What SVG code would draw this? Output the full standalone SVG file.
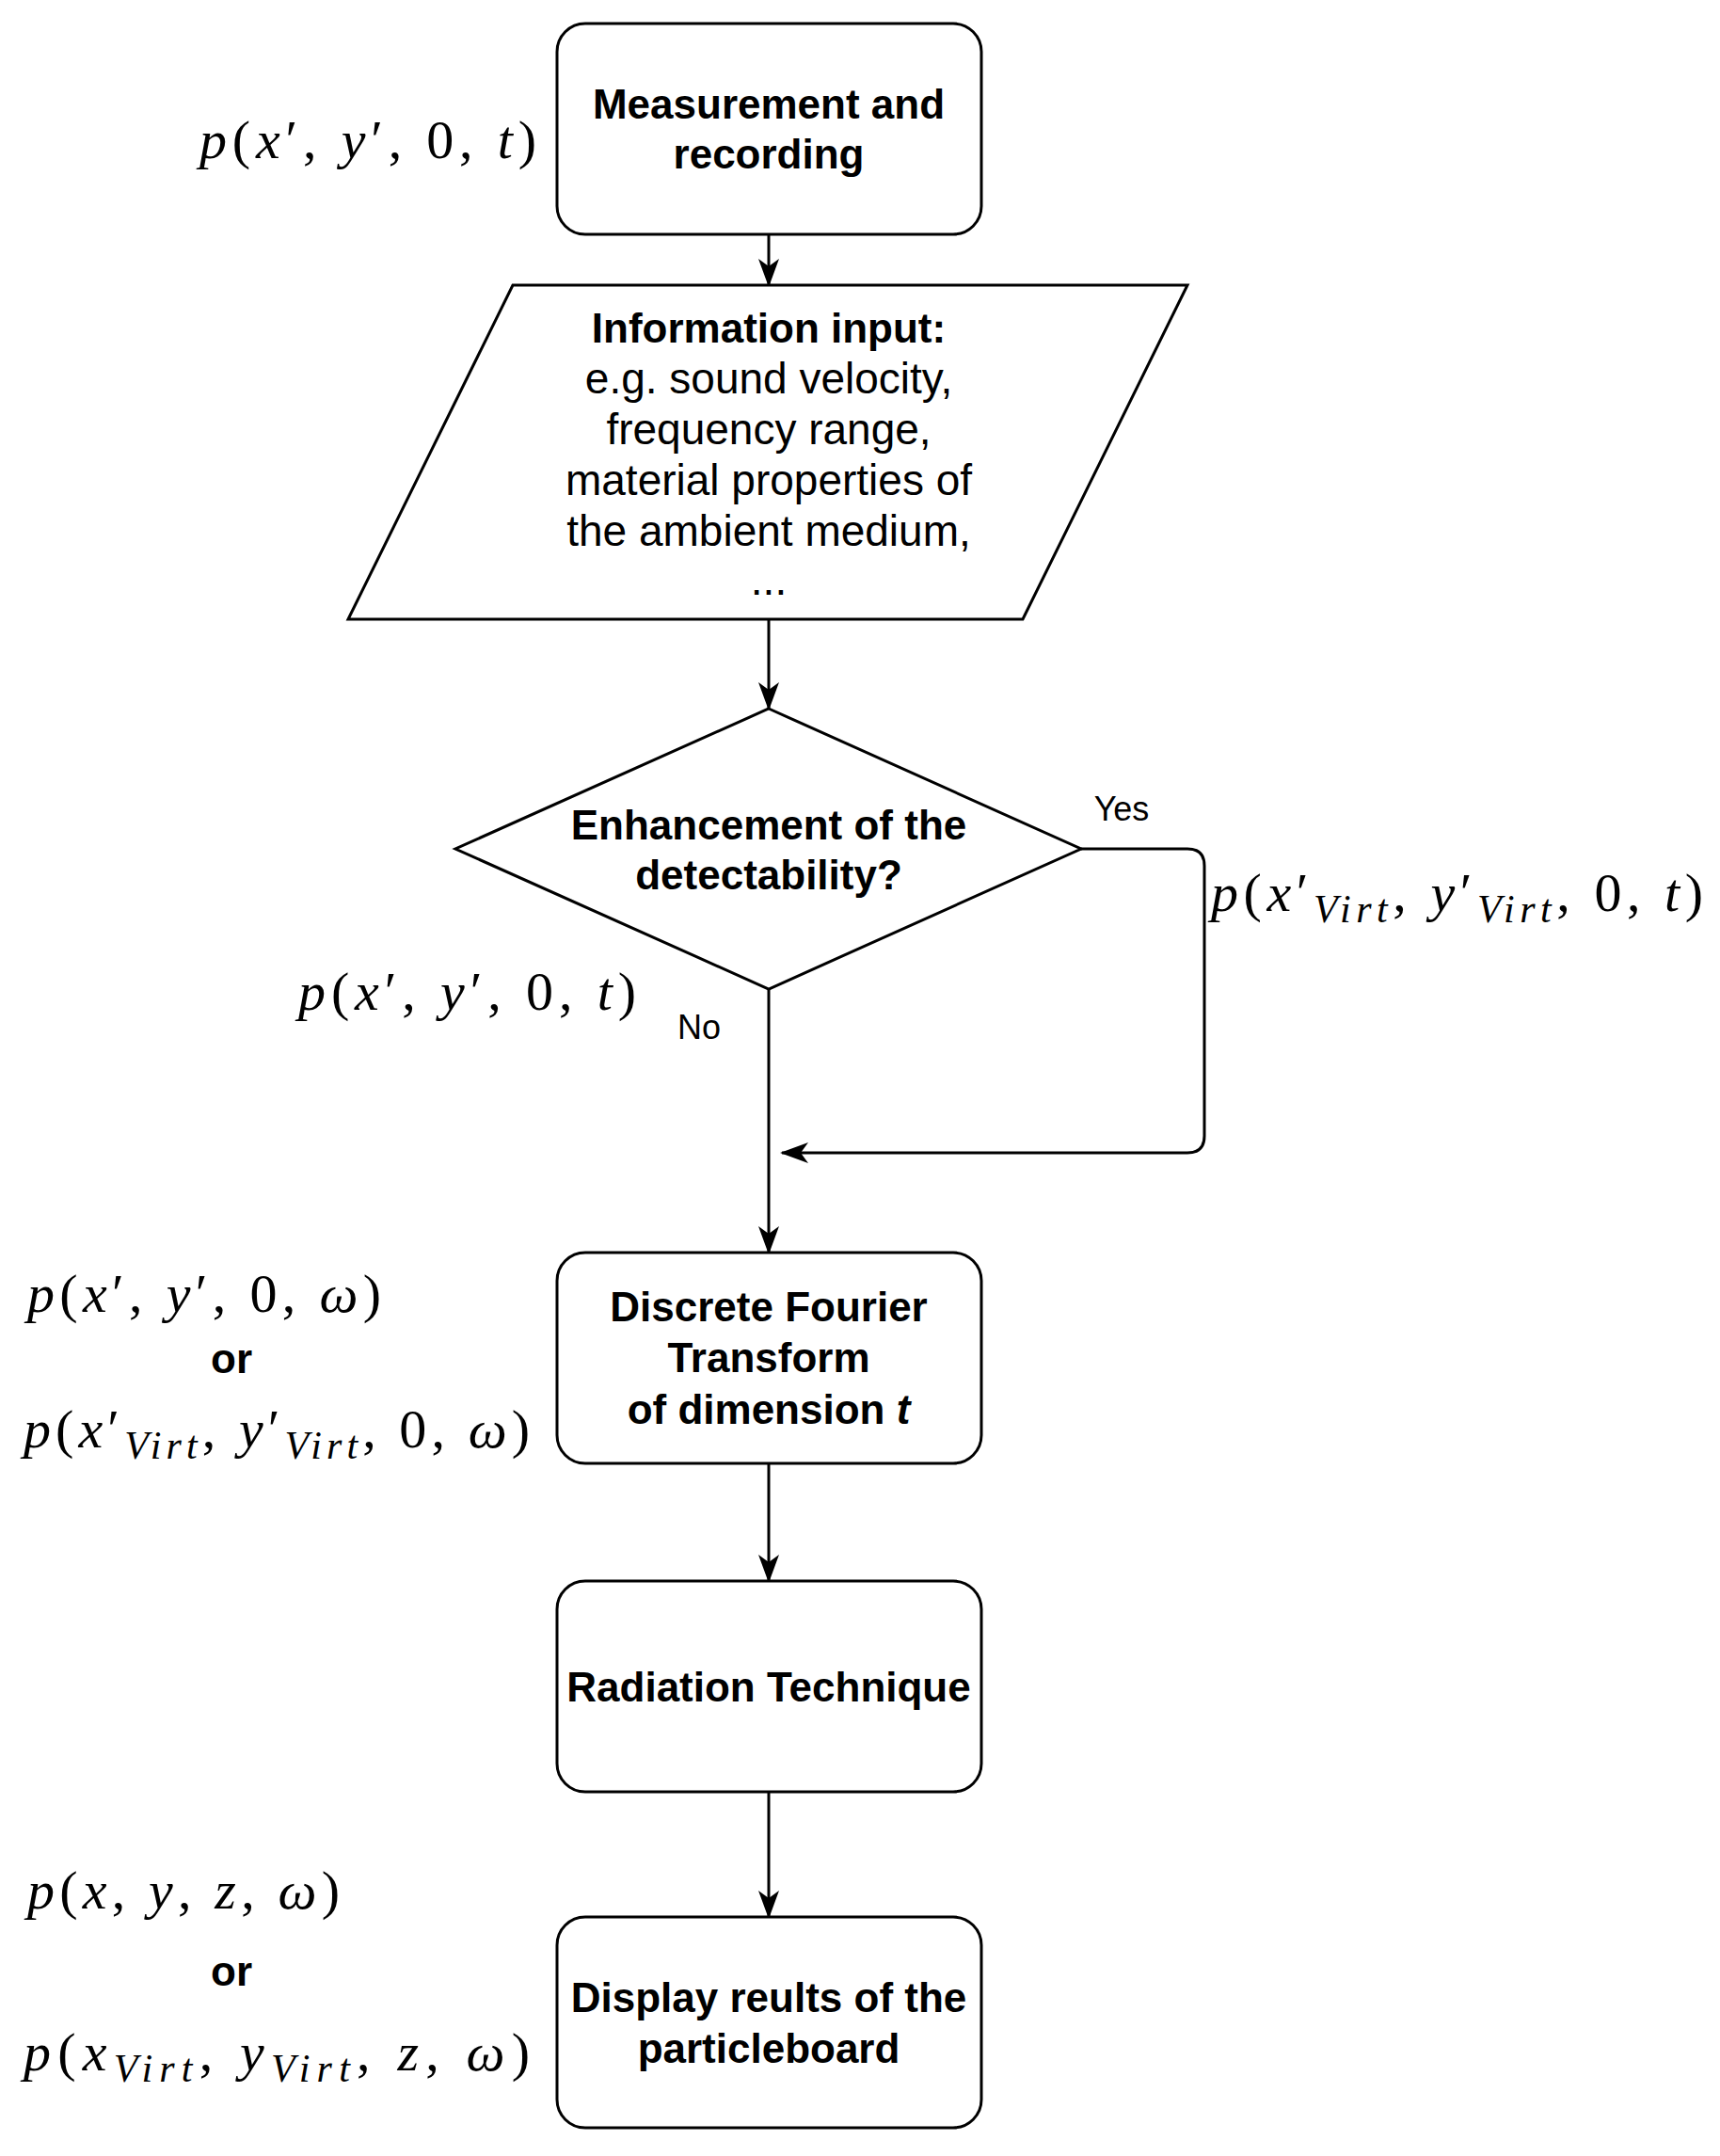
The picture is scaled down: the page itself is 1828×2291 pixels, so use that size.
<svg xmlns="http://www.w3.org/2000/svg" width="1828" height="2291" viewBox="0 0 1828 2291">
<style>
.s{fill:#fff;stroke:#000;stroke-width:3}
.t{font-family:"Liberation Sans",Arial,sans-serif;font-size:44px;text-anchor:middle;fill:#000}
.p{font-size:46px}
.b{font-weight:bold}
.m{font-family:"Liberation Serif","Times New Roman",serif;font-size:58px;fill:#000}
.i{font-style:italic}
.c{stroke:#000;stroke-width:3;fill:none}
</style>
<defs>
<marker id="ah" markerWidth="30" markerHeight="30" refX="28" refY="15" orient="auto" markerUnits="userSpaceOnUse"><path d="M0,4 L30,15 L0,26 L8,15 Z" fill="#000"/></marker></defs>
<g id="connectors">
<path class="c" d="M817,249 V303" marker-end="url(#ah)"/>
<path class="c" d="M817,658 V753" marker-end="url(#ah)"/>
<path class="c" d="M817,1051 V1331" marker-end="url(#ah)"/>
<path class="c" d="M1149,902 H1262 Q1280,902 1280,920 V1207 Q1280,1225 1262,1225 H831" marker-end="url(#ah)"/>
<path class="c" d="M817,1555 V1680" marker-end="url(#ah)"/>
<path class="c" d="M817,1904 V2037" marker-end="url(#ah)"/>
</g>
<g id="n1"><rect class="s" x="592" y="25" width="451" height="224" rx="30"/>
<text class="t b" x="817" y="126">Measurement and</text><text class="t b" x="817" y="179">recording</text></g>
<g id="n2"><polygon class="s" points="545,303 1262,303 1087,658 370,658"/>
<text class="t b" x="817" y="364">Information input:</text>
<text class="t p" x="817" y="418">e.g. sound velocity,</text>
<text class="t p" x="817" y="472">frequency range,</text>
<text class="t p" x="817" y="526">material properties of</text>
<text class="t p" x="817" y="580">the ambient medium,</text>
<text class="t p" x="817" y="632">...</text></g>
<g id="n3"><polygon class="s" points="817,753 1149,902 817,1051 484,902"/>
<text class="t b" x="817" y="892">Enhancement of the</text><text class="t b" x="817" y="945">detectability?</text></g>
<g id="n4"><rect class="s" x="592" y="1331" width="451" height="224" rx="30"/>
<text class="t b" x="817" y="1404">Discrete Fourier</text><text class="t b" x="817" y="1458">Transform</text><text class="t b" x="817" y="1513">of dimension <tspan class="i">t</tspan></text></g>
<g id="n5"><rect class="s" x="592" y="1680" width="451" height="224" rx="30"/>
<text class="t b" x="817" y="1808">Radiation Technique</text></g>
<g id="n6"><rect class="s" x="592" y="2037" width="451" height="224" rx="30"/>
<text class="t b" x="817" y="2138">Display reults of the</text><text class="t b" x="817" y="2192">particleboard</text></g>
<g id="labels">
<text class="t" x="1192" y="872" style="font-size:36px">Yes</text>
<text class="t" x="743" y="1104" style="font-size:36px">No</text>
<text class="t b" x="246" y="1459">or</text>
<text class="t b" x="246" y="2110">or</text>
<text class="m" x="212" y="168" textLength="358"><tspan class="i">p</tspan>(<tspan class="i">x</tspan>′, <tspan class="i">y</tspan>′, 0, <tspan class="i">t</tspan>)</text>
<text class="m" x="317" y="1073" textLength="359"><tspan class="i">p</tspan>(<tspan class="i">x</tspan>′, <tspan class="i">y</tspan>′, 0, <tspan class="i">t</tspan>)</text>
<text class="m" x="1287" y="968" textLength="523"><tspan class="i">p</tspan>(<tspan class="i">x</tspan>′<tspan class="i" dy="12" font-size="42">Virt</tspan><tspan dy="-12">, </tspan><tspan class="i">y</tspan>′<tspan class="i" dy="12" font-size="42">Virt</tspan><tspan dy="-12">, 0, </tspan><tspan class="i">t</tspan>)</text>
<text class="m" x="29" y="1394" textLength="376"><tspan class="i">p</tspan>(<tspan class="i">x</tspan>′, <tspan class="i">y</tspan>′, 0, <tspan class="i">ω</tspan>)</text>
<text class="m" x="25" y="1538" textLength="538"><tspan class="i">p</tspan>(<tspan class="i">x</tspan>′<tspan class="i" dy="12" font-size="42">Virt</tspan><tspan dy="-12">, </tspan><tspan class="i">y</tspan>′<tspan class="i" dy="12" font-size="42">Virt</tspan><tspan dy="-12">, 0, </tspan><tspan class="i">ω</tspan>)</text>
<text class="m" x="29" y="2028" textLength="332"><tspan class="i">p</tspan>(<tspan class="i">x</tspan>, <tspan class="i">y</tspan>, <tspan class="i">z</tspan>, <tspan class="i">ω</tspan>)</text>
<text class="m" x="25" y="2200" textLength="538"><tspan class="i">p</tspan>(<tspan class="i">x</tspan><tspan class="i" dy="12" font-size="42">Virt</tspan><tspan dy="-12">, </tspan><tspan class="i">y</tspan><tspan class="i" dy="12" font-size="42">Virt</tspan><tspan dy="-12">, </tspan><tspan class="i">z</tspan>, <tspan class="i">ω</tspan>)</text>
</g>
</svg>
